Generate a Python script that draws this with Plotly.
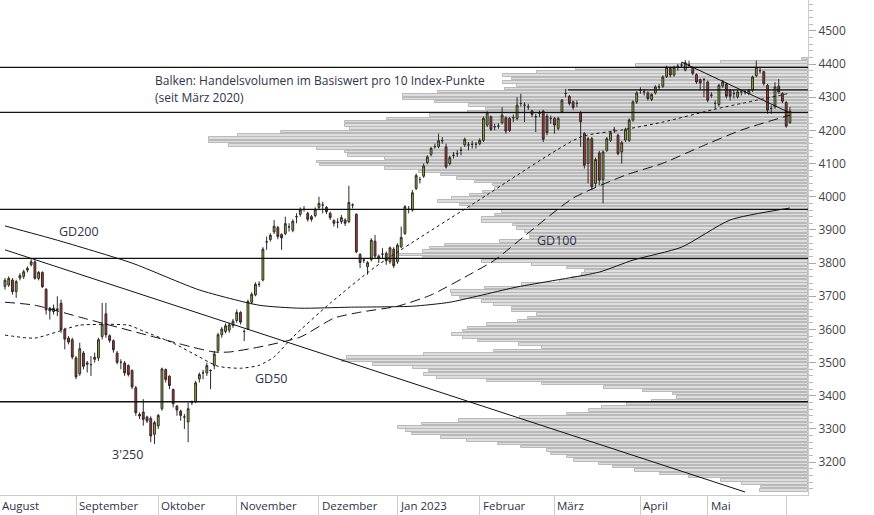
import pandas as pd
import plotly.graph_objects as go

# ---------------- data ----------------
opens = [3730,3734,3749,3714,3755,3760,3779,3795,3804,3754, 3772,3721,3664,3654,3662,3679,3599,3574,3569,3514,
 3466,3529,3495,3494,3510,3514,3579,3647,3581,3566, 3529,3501,3499,3491,3476,3424,3344,3351,3336,3332,
 3284,3309,3361,3479,3459,3419,3369,3354,3336,3321, 3379,3382,3451,3469,3469,3476,3491,3537,3584,3594,
 3598,3612,3627,3651,3594,3601,3682,3704,3736,3749, 3864,3871,3894,3907,3886,3889,3909,3899,3940,3947,
 3962,3950,3940,3943,3968,3975,3968,3950,3928,3923, 3925,3930,3925,3975,3947,3826,3809,3789,3811,3866,
 3821,3827,3829,3804,3842,3804,3849,3889,3962,3960, 4025,4052,4062,4103,4128,4151,4151,4169,4150,4100,
 4125,4130,4140,4156,4156,4158,4158,4160,4170,4216, 4241,4211,4213,4223,4238,4236,4238,4236,4281,4276,
 4271,4259,4241,4251,4258,4243,4236,4236,4206,4256, 4311,4303,4286,4281,4253,4191,4100,4175,4040,4132,
 4052,4140,4170,4201,4185,4135,4171,4170,4231,4286, 4321,4316,4313,4293,4313,4331,4333,4362,4387,4367,
 4393,4397,4382,4397,4387,4368,4353,4353,4346,4306, 4281,4278,4334,4339,4321,4311,4301,4316,4316,4311,
 4321,4365,4380,4377,4336,4266,4271,4333,4311,4284, 4223]
closes = [3748,3754,3714,3744,3762,3774,3784,3804,3754,3772, 3729,3659,3656,3664,3660,3599,3571,3562,3517,3457,
 3542,3489,3499,3494,3516,3569,3616,3584,3567,3539, 3501,3501,3469,3464,3427,3349,3339,3329,3324,3279,
 3319,3341,3481,3449,3431,3376,3357,3341,3336,3361, 3381,3439,3464,3469,3491,3476,3526,3584,3601,3611,
 3614,3625,3651,3622,3594,3684,3706,3736,3736,3842, 3864,3884,3911,3880,3876,3919,3909,3926,3940,3960,
 3962,3932,3932,3962,3980,3975,3955,3937,3920,3923, 3937,3920,3983,3975,3834,3802,3809,3801,3869,3821,
 3814,3827,3807,3846,3792,3854,3877,3970,3962,4012, 4064,4052,4093,4120,4146,4151,4169,4169,4090,4118,
 4125,4130,4140,4173,4156,4158,4158,4170,4236,4253, 4203,4211,4213,4246,4198,4200,4238,4276,4281,4276,
 4271,4248,4241,4251,4173,4193,4236,4216,4236,4291, 4311,4281,4269,4281,4226,4095,4175,4030,4112,4050,
 4135,4175,4193,4201,4130,4163,4203,4231,4286,4313, 4321,4316,4296,4308,4331,4331,4361,4390,4367,4390,
 4393,4397,4404,4397,4372,4346,4343,4353,4291,4306, 4281,4336,4346,4303,4303,4311,4316,4316,4316,4321,
 4361,4390,4380,4341,4261,4266,4331,4316,4288,4213, 4258]
highs = [3755,3760,3755,3750,3770,3780,3790,3815,3808,3776, 3775,3725,3668,3675,3700,3690,3605,3580,3575,3520,
 3560,3535,3505,3520,3530,3575,3680,3680,3585,3570, 3535,3510,3505,3495,3480,3430,3350,3390,3340,3338,
 3325,3345,3485,3482,3462,3422,3372,3358,3345,3380, 3386,3445,3470,3478,3500,3480,3535,3590,3607,3618,
 3620,3632,3660,3655,3600,3690,3712,3742,3745,3848, 3880,3890,3930,3912,3890,3940,3920,3932,3950,3968,
 3972,3955,3945,3968,4000,3985,3972,3955,3932,3935, 3945,3935,4033,3980,3950,3830,3815,3806,3875,3885,
 3826,3845,3835,3850,3848,3860,3910,3975,3972,4020, 4070,4060,4100,4125,4150,4160,4190,4180,4160,4124,
 4135,4140,4150,4178,4165,4168,4165,4176,4242,4258, 4245,4220,4222,4270,4242,4240,4248,4300,4310,4285,
 4280,4262,4250,4260,4262,4250,4245,4240,4240,4295, 4325,4306,4290,4290,4258,4195,4180,4180,4118,4138,
 4140,4180,4198,4210,4190,4168,4208,4236,4290,4318, 4330,4325,4318,4312,4336,4340,4366,4395,4392,4395,
 4400,4405,4412,4410,4392,4372,4356,4358,4350,4315, 4290,4340,4352,4344,4325,4322,4322,4322,4320,4325,
 4365,4410,4388,4380,4340,4276,4345,4355,4315,4288, 4270]
lows = [3720,3728,3705,3695,3748,3752,3772,3790,3750,3748, 3725,3645,3630,3645,3640,3590,3540,3555,3510,3450,
 3460,3480,3470,3460,3500,3505,3570,3575,3560,3530, 3495,3480,3460,3458,3420,3340,3330,3310,3318,3260,
 3255,3300,3355,3440,3420,3365,3340,3325,3300,3260, 3372,3378,3440,3450,3460,3420,3480,3530,3575,3588,
 3590,3605,3620,3615,3565,3598,3676,3700,3728,3745, 3840,3865,3888,3872,3840,3884,3895,3893,3920,3940,
 3955,3925,3925,3938,3962,3950,3948,3930,3910,3905, 3918,3912,3920,3965,3830,3785,3800,3765,3805,3815,
 3800,3815,3795,3798,3785,3798,3845,3885,3950,3955, 4020,4040,4057,4098,4122,4145,4146,4160,4085,4095,
 4115,4120,4125,4150,4140,4145,4145,4155,4165,4210, 4198,4200,4205,4218,4190,4195,4225,4230,4272,4225,
 4262,4240,4195,4240,4165,4185,4220,4190,4200,4252, 4300,4275,4262,4270,4150,4085,4040,4020,4030,4035,
 3980,4135,4165,4192,4125,4100,4165,4165,4226,4280, 4310,4305,4290,4288,4308,4322,4328,4358,4360,4362,
 4380,4388,4378,4390,4366,4340,4320,4300,4285,4298, 4265,4272,4328,4296,4290,4296,4296,4305,4308,4306,
 4316,4360,4372,4335,4250,4250,4265,4310,4282,4208, 4220]

first_day = "2022-08-05"
holidays = ["2022-12-26", "2023-04-07", "2023-04-10", "2023-05-18", "2023-05-29"]

# volume profile, bins of 10 points starting at 3110 (relative volume)
profile_start = 3110
profile_left = [760,761,742,721,689,660,635,613,599,574,
 567,551,547,521,498,467,441,412,406,398,
 422,459,520,567,589,602,627,652,677,673,
 643,604,542,487,437,424,429,413,373,342,
 347,424,494,542,519,478,463,452,463,468,
 487,518,528,537,512,512,494,482,460,452,
 451,485,522,560,572,582,585,567,532,482,
 423,397,423,430,445,500,530,530,525,517,
 513,482,482,495,502,470,460,438,452,470,
 483,495,493,475,457,441,419,385,320,317,
 385,348,345,317,229,209,209,238,281,350,
 345,345,387,430,468,486,469,435,403,403,
 438,505,517,503,512,503,537,576,636,721,
 802]
profile_full = 808
profile_vol = [profile_full - v for v in profile_left]
profile_levels = [profile_start + 10 * i for i in range(len(profile_vol))]

# moving averages: (candle index, value)
gd200_idx = [0,14,34,52,68,79,92,109,119,137,159,168,181,194,210]
gd200_val = [3912,3869,3800,3719,3673,3664,3667,3670,3682,3728,3773,3809,3848,3930,3966]
gd100_idx = [0,8,22,43,50,56,60,68,79,88,95,105,114,125,131,141,152,166,176,186,197,210]
gd100_val = [3682,3673,3631,3568,3547,3532,3532,3547,3577,3634,3652,3670,3704,3770,3809,3900,3996,4065,4101,4150,4201,4246]
gd50_idx = [0,8,17,20,33,37,45,52,57,63,68,72,77,87,99,126,154,165,176,190,210]
gd50_val = [3583,3574,3604,3613,3613,3595,3559,3517,3489,3483,3492,3517,3577,3679,3788,3984,4180,4201,4225,4264,4312]

trend1_idx = [0, 198]
trend1_val = [3840, 3110]
trend2_idx = [181, 210]
trend2_val = [4406, 4253]

hlines = [4390, 4254, 3962, 3814, 3382]
hline_partial = 4322
hline_partial_start = 0.703

month_ticks = ["2022-09-01","2022-10-03","2022-11-01","2022-12-01","2023-01-02",
               "2023-02-01","2023-03-01","2023-04-03","2023-05-01","2023-06-01"]
month_labels = ["September","Oktober","November","Dezember","Jan 2023",
                "Februar","März","April","Mai"]

# ---------------- figure ----------------
cbd = pd.offsets.CustomBusinessDay(holidays=holidays)
dates = pd.date_range(first_day, periods=len(opens), freq=cbd)

fig = go.Figure()
fig.add_trace(go.Bar(x=profile_vol, y=[l + 5 for l in profile_levels], orientation="h",
                     width=7.6, marker=dict(color="#dedede", line=dict(color="#b9b9b9", width=1)),
                     xaxis="x", yaxis="y", hoverinfo="skip"))

fig.add_trace(go.Candlestick(x=dates, open=opens, high=highs, low=lows, close=closes,
                             increasing=dict(fillcolor="#9cb22a", line=dict(color="#2b2b2b", width=1)),
                             decreasing=dict(fillcolor="#b8322a", line=dict(color="#2b2b2b", width=1)),
                             whiskerwidth=0, xaxis="x2", yaxis="y"))

def line(idx, val, dash, width=1):
    fig.add_trace(go.Scatter(x=[dates[i] for i in idx], y=val, mode="lines",
                             line=dict(color="#111", width=width, dash=dash, shape="spline", smoothing=0.6),
                             xaxis="x2", yaxis="y", hoverinfo="skip"))

line(gd200_idx, gd200_val, "solid")
line(gd100_idx, gd100_val, "10px,5px")
line(gd50_idx, gd50_val, "3px,3px")
for ti, tv in [(trend1_idx, trend1_val), (trend2_idx, trend2_val)]:
    fig.add_trace(go.Scatter(x=[dates[i] for i in ti], y=tv, mode="lines",
                             line=dict(color="#111", width=1), xaxis="x2", yaxis="y", hoverinfo="skip"))

shapes = [dict(type="line", xref="paper", yref="y", x0=0, x1=1, y0=h, y1=h,
               line=dict(color="#111", width=1.3), layer="above") for h in hlines]
shapes.append(dict(type="line", xref="paper", yref="y", x0=hline_partial_start, x1=1,
                   y0=hline_partial, y1=hline_partial, line=dict(color="#111", width=1.3), layer="above"))

txt = "#2d3348"
ann = [dict(text="August", xref="paper", yref="paper", x=0, y=-0.002, xanchor="left", yanchor="top",
            showarrow=False, font=dict(size=11.5, color=txt))]
for d, lab in zip(month_ticks, month_labels):
    ann.append(dict(text=lab, xref="x2", yref="paper", x=d, y=-0.002, xanchor="left", yanchor="top",
                    xshift=1, showarrow=False, font=dict(size=11.5, color=txt)))
W, H = 808, 495
def pa(text, px, py, size=12.5, anchor="left"):
    ann.append(dict(text=text, xref="paper", yref="paper", x=px / W, y=1 - py / H, xanchor=anchor,
                    yanchor="middle", showarrow=False, font=dict(size=size, color=txt)))
pa("Balken: Handelsvolumen im Basiswert pro 10 Index-Punkte", 153, 81, 12)
pa("(seit März 2020)", 153, 97, 12)
pa("GD200", 57, 231)
pa("GD100", 535, 240)
pa("GD50", 253, 378)
pa("3'250", 110, 454)

end = dates[-1] + 4 * cbd + pd.Timedelta(hours=20)
start = dates[0] - pd.Timedelta(days=2) + pd.Timedelta(hours=16)

fig.update_layout(
    width=874, height=515, margin=dict(l=0, r=66, t=0, b=20),
    paper_bgcolor="white", plot_bgcolor="white", showlegend=False,
    font=dict(family="Open Sans", color=txt),
    bargap=0, shapes=shapes, annotations=ann,
    xaxis=dict(range=[profile_full, 0], visible=False, fixedrange=True),
    xaxis2=dict(overlaying="x", anchor="y", side="bottom", type="date",
                range=[start, end], rangeslider=dict(visible=False),
                rangebreaks=[dict(bounds=["sat", "mon"]), dict(values=holidays)],
                tickvals=month_ticks, showticklabels=False, ticks="outside", ticklen=20,
                tickcolor="#cccccc", showgrid=False, showline=True, linecolor="#cccccc"),
    yaxis=dict(range=[3101, 4593], side="right", dtick=100, tick0=3200, showgrid=False,
               ticks="outside", ticklen=7, tickcolor="#aaaaaa", showline=True, linecolor="#cccccc",
               tickfont=dict(size=12, color="#444"), zeroline=False,
               minor=dict(dtick=20, ticks="outside", ticklen=4, tickcolor="#bbbbbb")),
)
fig.write_html("out.html", config={"displayModeBar": False},
               post_script="document.body.style.margin='0px';")
